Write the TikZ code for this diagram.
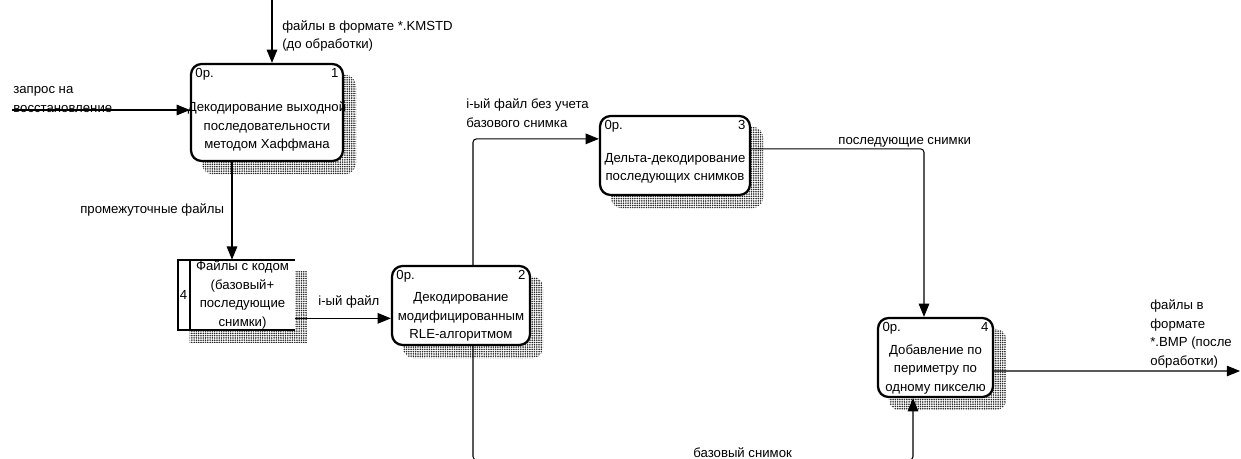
\documentclass[tikz,border=0pt]{standalone}
\usepackage{fontspec}
\setmainfont{Liberation Sans}
\usetikzlibrary{arrows.meta,positioning,calc,backgrounds,patterns.meta}

\begin{document}
\begin{tikzpicture}[
  x=0.02cm, y=-0.02cm,
  font=\fontsize{7.5}{10.5}\selectfont,
  proc/.style={draw,line width=1.3pt,rounded corners=6pt,fill=white,inner sep=0pt},
  ptext/.style={align=center,inner sep=1pt},
  lbl/.style={inner sep=3pt},
  note/.style={align=left,inner sep=0pt,anchor=west},
  shade/.style={pattern={Dots[distance=1.3pt,radius=0.5pt]},pattern color=black!85},
  arr/.style={-{Triangle[length=7.5pt,width=6pt]},line width=0.6pt},
  link/.style={rounded corners=2pt}
]
\useasboundingbox (0,0) rectangle (1241,459);

% activity boxes
\node[proc,minimum width=3.04cm,minimum height=1.94cm] (p1) at (267,112.5) {};
\node[ptext] (p1t) at ($(p1.center)+(0,14)$) {Декодирование выходной\\последовательности\\методом Хаффмана};
\node[lbl,anchor=north west] (p1a) at (p1.north west) {0р.};
\node[lbl,anchor=north east] (p1b) at (p1.north east) {1};

\node[proc,minimum width=2.76cm,minimum height=1.58cm] (p2) at (461,305.5) {};
\node[ptext] (p2t) at ($(p2.center)+(0,11.5)$) {Декодирование\\модифицированным\\RLE-алгоритмом};
\node[lbl,anchor=north west] (p2a) at (p2.north west) {0р.};
\node[lbl,anchor=north east] (p2b) at (p2.north east) {2};

\node[proc,minimum width=3cm,minimum height=1.58cm] (p3) at (675,155.5) {};
\node[ptext] (p3t) at ($(p3.center)+(0,13)$) {Дельта-декодирование\\последующих снимков};
\node[lbl,anchor=north west] (p3a) at (p3.north west) {0р.};
\node[lbl,anchor=north east] (p3b) at (p3.north east) {3};

\node[proc,minimum width=2.3cm,minimum height=1.58cm] (p4) at (935.5,357.5) {};
\node[ptext] (p4t) at ($(p4.center)+(0,12)$) {Добавление по\\периметру по\\одному пикселю};
\node[lbl,anchor=north west] (p4a) at (p4.north west) {0р.};
\node[lbl,anchor=north east] (p4b) at (p4.north east) {4};

% data store
\node[minimum width=2.1cm,minimum height=1.4cm,inner sep=0pt] (st) at (242.5,295) {};
\fill[white] ($(st.north west)+(-12,0)$) rectangle (st.south east);
\node[ptext] (stt) at (st.center) {Файлы с кодом\\(базовый+\\последующие\\снимки)};
\node[lbl,inner sep=1pt] (stn) at ($(st.west)+(-6,0)$) {4};
\draw[line width=1.3pt] (st.north east) -- ($(st.north west)+(-12,0)$) -- ($(st.south west)+(-12,0)$) -- (st.south east);
\draw[line width=1.3pt] (st.north west) -- (st.south west);

% shadows
\begin{scope}[on background layer]
\foreach \b in {p1,p2,p3,p4}
  \fill[shade,rounded corners=6pt] ($(\b.north west)+(12,12)$) rectangle ($(\b.south east)+(12,12)$);
\fill[shade] ($(st.north west)+(0,12)$) rectangle ($(st.south east)+(12,12)$);
\end{scope}

% arrows
\coordinate (in1) at (272,0);
\draw[arr] (in1) -- (in1 |- p1.north);
\coordinate (req) at (12,110);
\draw[arr] (req) -- (req -| p1.west);
\coordinate (p1s) at ($(p1.south)+(-35,0)$);
\draw[arr] (p1s) -- (p1s |- st.north);
\coordinate (sto) at ($(st.south east)+(0,-12)$);
\draw[arr] (sto) -- (sto -| p2.west);
\coordinate (p2n) at ($(p2.north)+(12,0)$);
\coordinate (p3w) at ($(p3.north west)+(0,24)$);
\draw[arr,link] (p2n) |- (p3w);
\coordinate (p3e) at ($(p3.north east)+(0,34)$);
\coordinate (p4n) at ($(p4.north)+(-11.5,0)$);
\draw[arr,link] (p3e) -| (p4n);
\coordinate (p4e) at ($(p4.east)+(0,13.5)$);
\coordinate (out) at (1240,371);
\draw[arr] (p4e) -- (out);
\coordinate (p2s) at ($(p2.south)+(12,0)$);
\coordinate (p4s) at ($(p4.south)+(-22.5,0)$);
\coordinate (base) at (700,460);
\draw[arr,link] (p2s) -- (p2s |- base) -| (p4s);

% labels
\node[note] (lin1) at (282,36) {файлы в формате *.KMSTD\\(до обработки)};
\node[note] (lreq) at (13,99.5) {запрос на\\восстановление};
\node[note] (lmid) at (80,210) {промежуточные файлы};
\node[note] (lfile) at (318,302) {i-ый файл};
\node[note] (lnob) at (466,113) {i-ый файл без учета\\базового снимка};
\node[note] (lnext) at (838,142) {последующие снимки};
\node[note] (lout) at (1150,334) {файлы в\\формате\\*.BMP (после\\обработки)};
\node[note] (lbase) at (693,453) {базовый снимок};
\end{tikzpicture}
\end{document}
